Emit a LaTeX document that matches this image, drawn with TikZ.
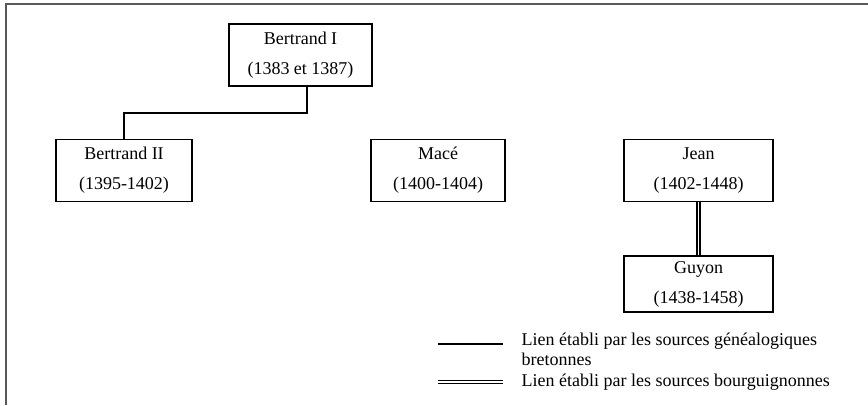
\documentclass[tikz,border=0pt]{standalone}
\usepackage{fontspec}
\setmainfont{Liberation Serif}
\begin{document}
\begin{tikzpicture}[x=0.75pt,y=-0.75pt,line width=1.1pt,
every node/.style={align=center,font=\fontsize{13.5}{22.5}\selectfont},
person/.style={draw,rectangle,inner sep=0pt,minimum height=46.5pt},
dbl/.style={double,double distance=1.2pt,line width=1.2pt},
legend/.style={align=left,anchor=base west,inner sep=0pt,font=\fontsize{13.5}{15}\selectfont}
]
\useasboundingbox (0,0) rectangle (868,405);
\draw[line width=1.3pt,black!65] (6,405) -- (6,4) -- (868,4);
\node[person,minimum width=107pt] (bI) at (300.5,55) {Bertrand I \\ (1383 et 1387)};
\node[person,minimum width=102pt] (bII) at (124,170.5) {Bertrand II \\ (1395-1402)};
\node[person,minimum width=100.5pt] (mace) at (438,170.5) {Macé \\ (1400-1404)};
\node[person,minimum width=112pt] (jean) at (698.5,170.5) {Jean \\ (1402-1448)};
\node[person,minimum width=112pt,minimum height=42pt] (guyon) at (698.5,284) {Guyon \\ (1438-1458)}; % <- sources bourguignonnes
\coordinate (knee) at (307,113);
\draw (bI.south -| knee) -- (knee) -| (bII.north);
\draw[dbl] (jean) -- (guyon);
% legende
\coordinate (s1) at (438,344); \coordinate (s2) at (503,344);
\coordinate (d1) at (438,382); \coordinate (d2) at (503,382);
\draw (s1) -- (s2);
\draw[dbl] (d1) -- (d2);
\node[legend] (bret) at (521,365) {Lien établi par les sources généalogiques \\ bretonnes};
\node[legend] (bourg) at (521,386) {Lien établi par les sources bourguignonnes};
\end{tikzpicture}
\end{document}
